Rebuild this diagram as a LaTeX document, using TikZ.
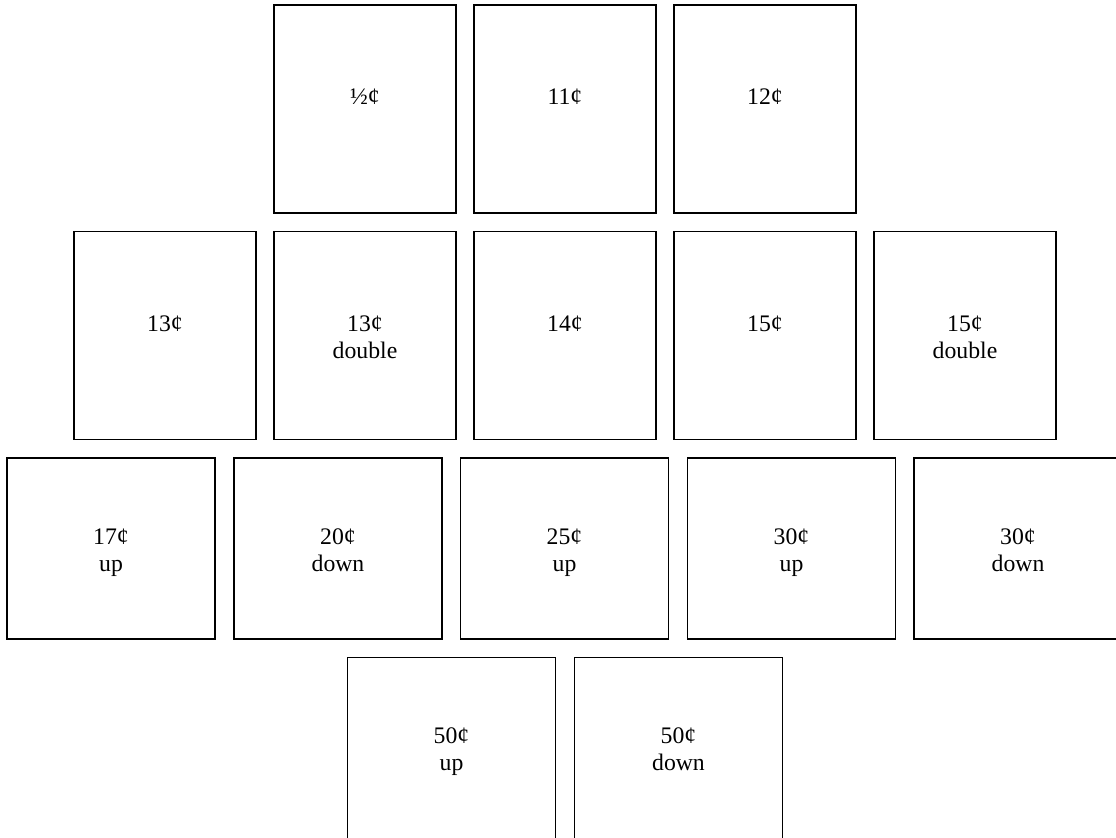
\documentclass[tikz,border=0pt]{standalone}
\usepackage{fontspec}
\setmainfont{Liberation Serif}
\tikzset{
  stamp/.style={draw, line width=0.9pt, inner sep=0pt, align=center,
    font=\fontsize{13.5}{15.3}\selectfont},
  tall/.style={stamp, minimum width=3.64cm, minimum height=4.16cm},
  wide/.style={stamp, minimum width=4.16cm, minimum height=3.62cm}
}
\begin{document}
\begin{tikzpicture}[x=0.02cm,y=-0.02cm]
        \clip (0,0) rectangle (1116,838);
        % Prima fila
        \node[tall] (half) at (365,109) {½¢\strut\\\mbox{}};
        \node[tall] (c11) at (565,109) {11¢\strut\\\mbox{}};
        \node[tall] (c12) at (765,109) {12¢\strut\\\mbox{}};
        % Seconda fila
        \node[tall] (c13) at (165,335.5) {13¢\strut\\\mbox{}};
        \node[tall] (c13d) at (365,335.5) {13¢\strut\\\smash{double}};
        \node[tall] (c14) at (565,335.5) {14¢\strut\\\mbox{}};
        \node[tall] (c15) at (765,335.5) {15¢\strut\\\mbox{}};
        \node[tall] (c15d) at (965,335.5) {15¢\strut\\\smash{double}};
        % Terza fila
        \node[wide] (c17u) at (111,548.5) {17¢\strut\\\smash{up}};
        \node[wide] (c20d) at (338,548.5) {20¢\strut\\\smash{down}};
        \node[wide] (c25u) at (564.5,548.5) {25¢\strut\\\smash{up}};
        \node[wide] (c30u) at (791.5,548.5) {30¢\strut\\\smash{up}};
        \node[wide] (c30d) at (1018,548.5) {30¢\strut\\\smash{down}};
        % Quarta fila
        \node[wide] (c50u) at (451.5,748) {50¢\strut\\\smash{up}};
        \node[wide] (c50d) at (678.5,748) {50¢\strut\\\smash{down}};
    \end{tikzpicture}
\end{document}
